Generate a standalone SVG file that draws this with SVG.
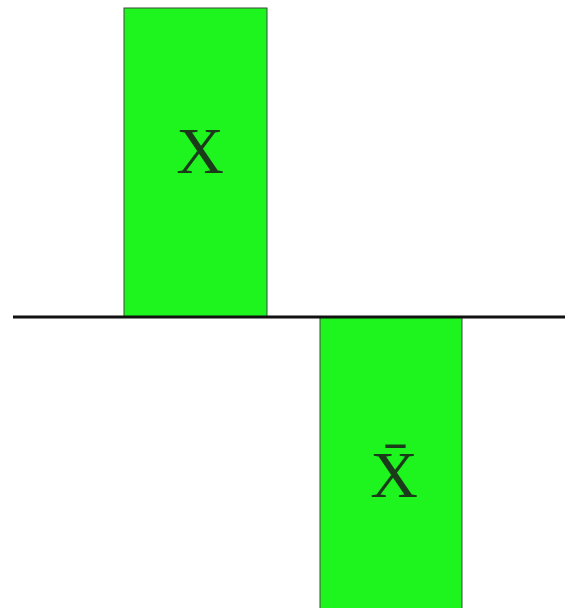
<svg xmlns="http://www.w3.org/2000/svg" width="565" height="608" viewBox="0 0 565 608">
<style>
.bar{fill:#1ef51e;stroke:#3a4a3a;stroke-width:1}
.lbl{font-family:"Liberation Serif","Times New Roman",serif;font-size:66px;fill:#1a3a1a;text-anchor:middle}
</style>
<rect width="565" height="608" fill="#ffffff"/>
<g id="nodeX">
<rect class="bar" x="124" y="8" width="143" height="309"/>
<text class="lbl" x="200" y="173">X</text>
</g>
<g id="nodeXbar">
<rect class="bar" x="320" y="317" width="142" height="295"/>
<text class="lbl" x="394" y="497">X̄</text>
</g>
<g id="connectors">
<line x1="13" y1="317" x2="565" y2="317" stroke="#111111" stroke-width="3"/>
</g>
</svg>
